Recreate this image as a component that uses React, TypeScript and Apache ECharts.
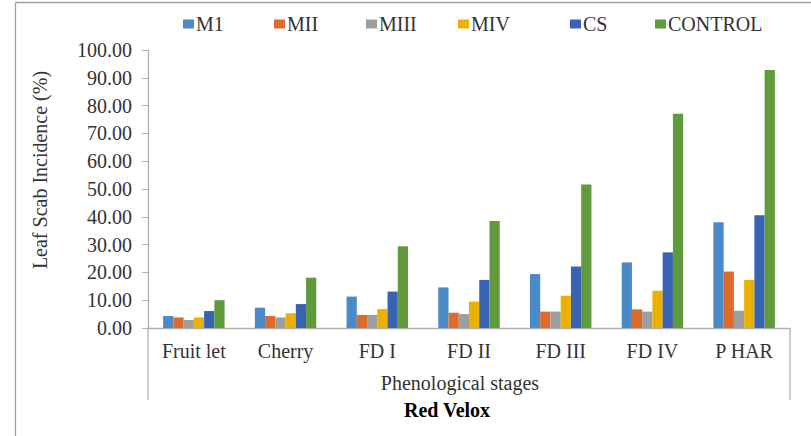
import React, { useEffect, useRef } from "react";
import * as echarts from "echarts";

const categories = ["Fruit let", "Cherry", "FD I", "FD II", "FD III", "FD IV", "P HAR"];
const seriesNames = ["M1", "MII", "MIII", "MIV", "CS", "CONTROL"];
const m1 = [4.3, 7.3, 11.3, 14.6, 19.4, 23.6, 38.0];
const m2 = [3.8, 4.3, 4.7, 5.5, 5.9, 6.7, 20.3];
const m3 = [2.9, 3.8, 4.7, 5.0, 5.9, 5.9, 6.2];
const m4 = [3.8, 5.3, 6.8, 9.5, 11.6, 13.4, 17.3];
const cs = [6.1, 8.6, 13.1, 17.3, 22.1, 27.2, 40.6];
const control = [10.0, 18.1, 29.4, 38.5, 51.6, 77.1, 92.8];
const yTicks = [0, 10, 20, 30, 40, 50, 60, 70, 80, 90, 100];

const colors = ["#4A8AC6", "#DD6B2A", "#9E9E9E", "#EBB000", "#3862B2", "#5F9B3C"];
const allValues = [m1, m2, m3, m4, cs, control];
const legendLefts = [178, 269, 361, 453, 565, 650];

const FONT = "Liberation Serif";

export default function App() {
  const ref = useRef<HTMLDivElement>(null);
  useEffect(() => {
    if (!ref.current) return;
    const chart = echarts.init(ref.current, undefined, { renderer: "svg" });
    const option: any = {
      animation: false,
      backgroundColor: "#ffffff",
      textStyle: { fontFamily: FONT },
      legend: seriesNames.map((n, i) => ({
        data: [n],
        left: legendLefts[i],
        top: 9,
        itemWidth: 11,
        itemHeight: 9,
        itemGap: 0,
        icon: "rect",
        textStyle: { fontFamily: FONT, fontSize: 20, color: "#333", padding: [0, 0, 0, -3] },
      })),
      grid: { left: 148, right: 21, top: 50, bottom: 108, containLabel: false },
      xAxis: {
        type: "category",
        data: categories,
        axisLine: { show: true, lineStyle: { color: "#B0B0B0", width: 1.3 } },
        axisTick: { show: false },
        axisLabel: { fontFamily: FONT, fontSize: 20, color: "#333", margin: 13, interval: 0 },
      },
      yAxis: {
        type: "value",
        min: yTicks[0],
        max: yTicks[yTicks.length - 1],
        interval: 10,
        axisLine: { show: true, lineStyle: { color: "#B0B0B0", width: 1.3 } },
        axisTick: { show: true, inside: false, length: 6, lineStyle: { color: "#B0B0B0" } },
        splitLine: { show: false },
        axisLabel: {
          fontFamily: FONT,
          fontSize: 20,
          color: "#333",
          margin: 16,
          formatter: (v: number) => v.toFixed(2),
        },
      },
      series: seriesNames.map((n, i) => ({
        name: n,
        type: "bar",
        data: allValues[i],
        barGap: "0%",
        barCategoryGap: "33%",
        itemStyle: { color: colors[i] },
      })),
      graphic: [
        { type: "line", shape: { x1: 15.5, y1: 2.5, x2: 811, y2: 2.5 }, style: { stroke: "#A0A0A0", lineWidth: 1.3 } },
        { type: "line", shape: { x1: 15.5, y1: 2.5, x2: 15.5, y2: 436 }, style: { stroke: "#A0A0A0", lineWidth: 1.3 } },
        { type: "line", shape: { x1: 148, y1: 328, x2: 148, y2: 400 }, style: { stroke: "#B0B0B0", lineWidth: 1.3 } },
        { type: "line", shape: { x1: 790, y1: 328, x2: 790, y2: 400 }, style: { stroke: "#B0B0B0", lineWidth: 1.3 } },
        {
          type: "text",
          x: 40,
          y: 170,
          rotation: Math.PI / 2,
          style: {
            text: "Leaf Scab Incidence (%)",
            fontFamily: FONT,
            fontSize: 20,
            fill: "#333",
            textAlign: "center",
            textVerticalAlign: "middle",
          },
        },
        {
          type: "text",
          x: 460,
          y: 383,
          style: {
            text: "Phenological stages",
            fontFamily: FONT,
            fontSize: 20,
            fill: "#333",
            textAlign: "center",
            textVerticalAlign: "middle",
          },
        },
        {
          type: "text",
          x: 447,
          y: 410,
          style: {
            text: "Red Velox",
            fontFamily: FONT,
            fontSize: 20,
            fontWeight: "bold",
            fill: "#000",
            textAlign: "center",
            textVerticalAlign: "middle",
          },
        },
      ],
    };
    chart.setOption(option);
    return () => chart.dispose();
  }, []);
  return <div ref={ref} style={{ width: 811, height: 436, position: "absolute", left: 0, top: 0 }} />;
}
